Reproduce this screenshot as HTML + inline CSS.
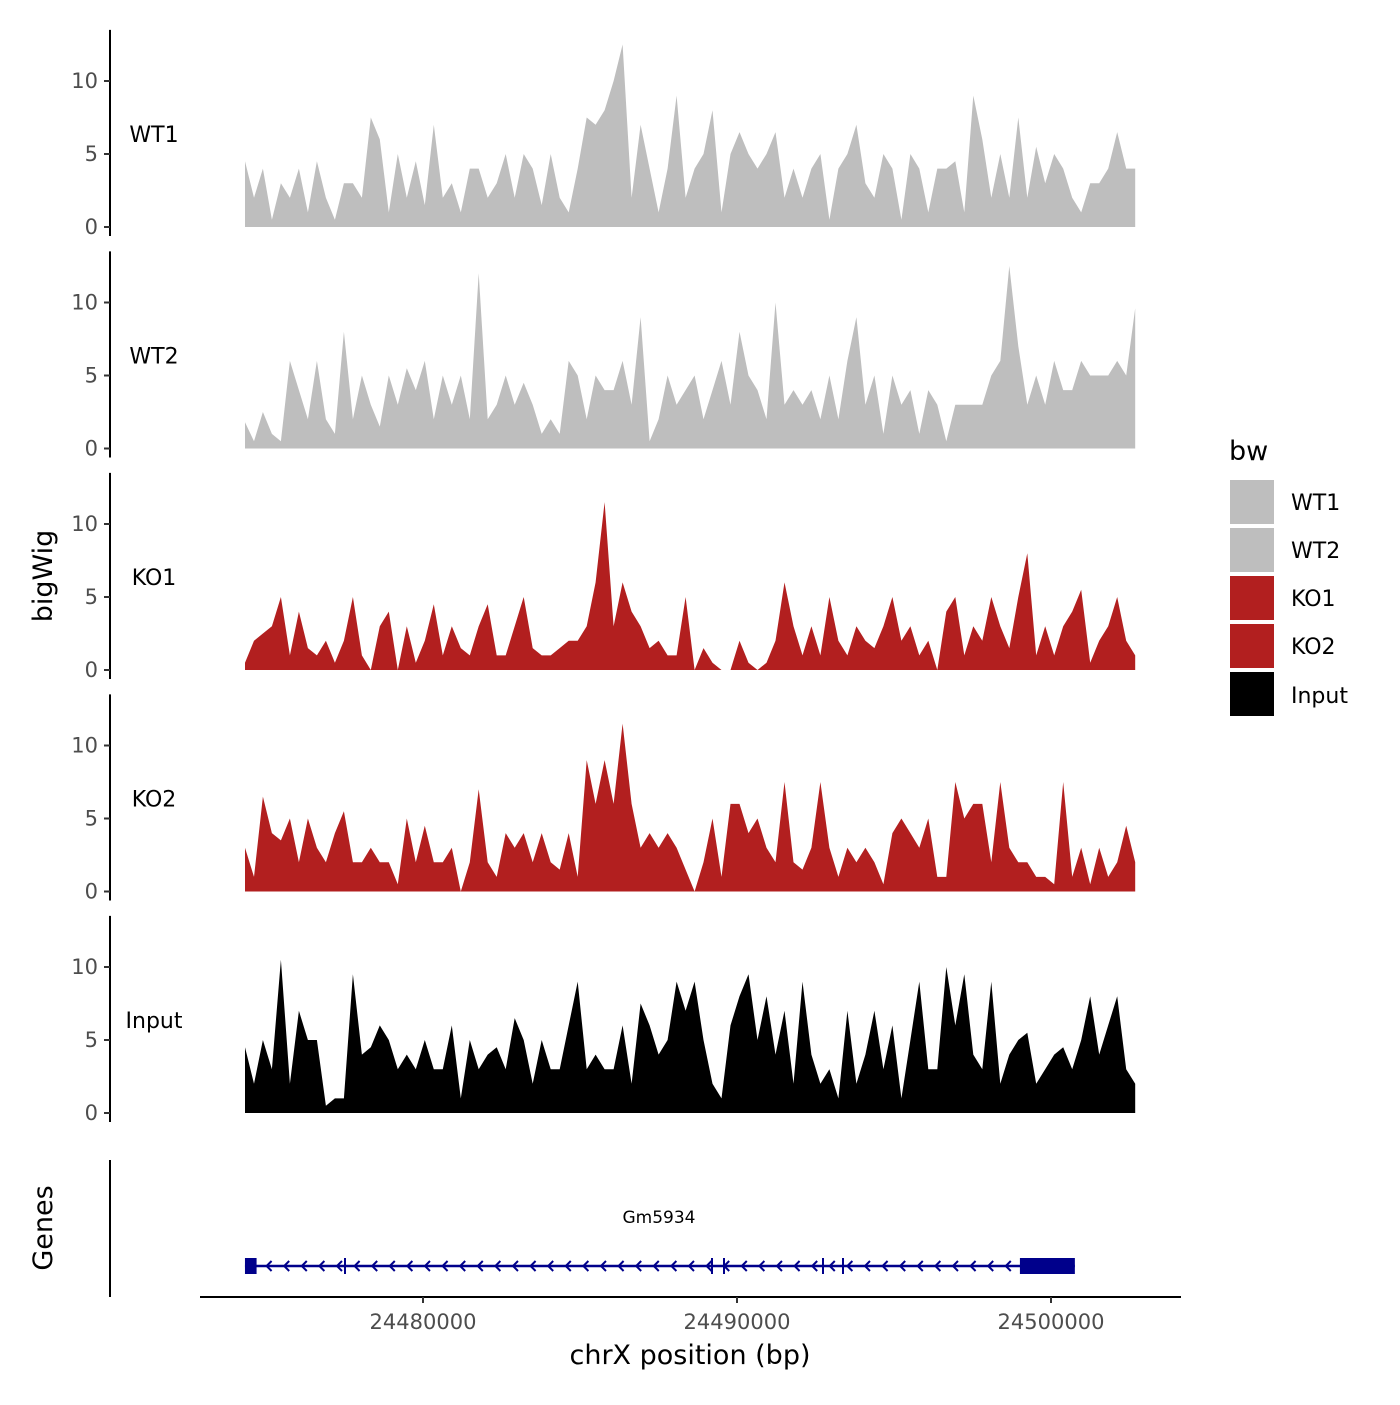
<!DOCTYPE html>
<html><head><meta charset="utf-8"><style>
html,body{margin:0;padding:0;background:#fff}
svg text{font-family:"DejaVu Sans","Liberation Sans",sans-serif}
</style></head><body>
<svg id="chart" width="1400" height="1400" xmlns="http://www.w3.org/2000/svg"></svg>
<script>
const trackNames=["WT1","WT2","KO1","KO2","Input"];
const trackColors=["#bebebe","#bebebe","#b21f1f","#b21f1f","#000000"];
const wt1=[4.5,2,4,0.5,3,2,4,1,4.5,2,0.5,3,3,2,7.5,6,1,5,2,4.5,1.5,7,2,3,1,4,4,2,3,5,2,5,4,1.5,5,2,1,4,7.5,7,8,10,12.5,2,7,4,1,4,9,2,4,5,8,1,5,6.5,5,4,5,6.5,2,4,2,4,5,0.5,4,5,7,3,2,5,4,0.5,5,4,1,4,4,4.5,1,9,6,2,5,2,7.5,2,5.5,3,5,4,2,1,3,3,4,6.5,4,4];
const wt2=[1.8,0.5,2.5,1,0.5,6,4,2,6,2,1,8,2,5,3,1.5,5,3,5.5,4,6,2,5,3,5,2,12,2,3,5,3,4.5,3,1,2,1,6,5,2,5,4,4,6,3,9,0.5,2,5,3,4,5,2,4,6,3,8,5,4,2,10,3,4,3,4,2,5,2,6,9,3,5,1,5,3,4,1,4,3,0.5,3,3,3,3,5,6,12.5,7,3,5,3,6,4,4,6,5,5,5,6,5,9.6];
const ko1=[0.5,2,2.5,3,5,1,4,1.5,1,2,0.5,2,5,1,0,3,4,0,3,0.5,2,4.5,1,3,1.5,1,3,4.5,1,1,3,5,1.5,1,1,1.5,2,2,3,6,11.5,3,6,4,3,1.5,2,1,1,5,0,1.5,0.5,0,0,2,0.5,0,0.5,2,6,3,1,3,1,5,2,1,3,2,1.5,3,5,2,3,1,2,0,4,5,1,3,2,5,3,1.5,5,8,1,3,1,3,4,5.5,0.5,2,3,5,2,1];
const ko2=[3,1,6.5,4,3.5,5,2,5,3,2,4,5.5,2,2,3,2,2,0.5,5,2,4.5,2,2,3,0,2,7,2,1,4,3,4,2,4,2,1.5,4,1,9,6,9,6,11.5,6,3,4,3,4,3,1.5,0,2,5,1,6,6,4,5,3,2,7.5,2,1.5,3,7.5,3,1,3,2,3,2,0.5,4,5,4,3,5,1,1,7.5,5,6,6,2,7.5,3,2,2,1,1,0.5,7.5,1,3,0.5,3,1,2,4.5,2];
const input=[4.5,2,5,3,10.5,2,7,5,5,0.5,1,1,9.5,4,4.5,6,5,3,4,3,5,3,3,6,1,5,3,4,4.5,3,6.5,5,2,5,3,3,6,9,3,4,3,3,6,2,7.5,6,4,5,9,7,9,5,2,1,6,8,9.5,5,8,4,7,2,9,4,2,3,1,7,2,4,7,3,6,1,5,9,3,3,10,6,9.5,4,3,9,2,4,5,5.5,2,3,4,4.5,3,5,8,4,6,8,3,2];
const trackData=[wt1,wt2,ko1,ko2,input];
const yTicks=[0,5,10];
const xTicks=[24480000,24490000,24500000];
const bpStart=24474330, bpEnd=24502680;
const exonStarts=[24474330,24499010];
const exonEnds=[24474700,24500760];
const geneStart=24474330, geneEnd=24500760;

const NS="http://www.w3.org/2000/svg";
const svg=document.getElementById('chart');
function mk(t,a,p){const e=document.createElementNS(NS,t);for(const k in a)e.setAttribute(k,a[k]);(p||svg).appendChild(e);return e;}
function xs(bp){return 423+(bp-24480000)*0.0314;}
const base0=227, step=221.5, ppu=14.6;
function ys(i,v){return base0+i*step - v*ppu;}

trackData.forEach((d,i)=>{
  const g=mk('g',{});
  
  
  const n=d.length;
  let pts=[];
  d.forEach((v,j)=>{const bp=bpStart+(bpEnd-bpStart)*j/(n-1);pts.push(xs(bp).toFixed(1)+','+ys(i,v).toFixed(1));});
  const p=mk('polygon',{points:xs(bpStart).toFixed(1)+','+ys(i,0)+' '+pts.join(' ')+' '+xs(bpEnd).toFixed(1)+','+ys(i,0),fill:trackColors[i]},g);
  
  
  const ax=mk('line',{x1:110,x2:110,y1:ys(i,13.5),y2:ys(i,0)+9,stroke:'#000','stroke-width':2},g);
  
  
  yTicks.forEach(t=>{
    const y=ys(i,t);
    mk('line',{x1:104,x2:110,y1:y,y2:y,stroke:'#333','stroke-width':2},g);
    const tx=mk('text',{x:98,y:y+7,'text-anchor':'end','font-size':21,fill:'#4d4d4d'},g);
    tx.textContent=t;
    
    
  });
  const lb=mk('text',{x:154,y:ys(i,0)-85,'text-anchor':'middle','font-size':22,fill:'#000'},g);
  lb.textContent=trackNames[i];
  
  
});
</script>
<svg style="position:absolute;left:0;top:0" width="1400" height="1400" xmlns="http://www.w3.org/2000/svg">
<text transform="translate(52,576) rotate(-90)" text-anchor="middle" font-size="27" fill="#000" font-family="DejaVu Sans,sans-serif">bigWig</text>
<text transform="translate(52,1228) rotate(-90)" text-anchor="middle" font-size="27" fill="#000" font-family="DejaVu Sans,sans-serif">Genes</text>
<line x1="110" x2="110" y1="1160" y2="1297" stroke="#000" stroke-width="2"/>
<g font-family="DejaVu Sans,sans-serif">
<line x1="200" x2="1181" y1="1297" y2="1297" stroke="#000" stroke-width="2"/>
<line x1="423" x2="423" y1="1297" y2="1303" stroke="#333" stroke-width="2"/>
<line x1="737" x2="737" y1="1297" y2="1303" stroke="#333" stroke-width="2"/>
<line x1="1051" x2="1051" y1="1297" y2="1303" stroke="#333" stroke-width="2"/>
<text x="423" y="1329" text-anchor="middle" font-size="21" fill="#4d4d4d">24480000</text>
<text x="737" y="1329" text-anchor="middle" font-size="21" fill="#4d4d4d">24490000</text>
<text x="1051" y="1329" text-anchor="middle" font-size="21" fill="#4d4d4d">24500000</text>
<text x="690" y="1364" text-anchor="middle" font-size="27" fill="#000">chrX position (bp)</text>
</g>
<g font-family="DejaVu Sans,sans-serif">
<text x="1229" y="460" font-size="27" fill="#000">bw</text>
<rect x="1230" y="480" width="44" height="44" fill="#bebebe"/>
<rect x="1230" y="528" width="44" height="44" fill="#bebebe"/>
<rect x="1230" y="576" width="44" height="44" fill="#b21f1f"/>
<rect x="1230" y="624" width="44" height="44" fill="#b21f1f"/>
<rect x="1230" y="672" width="44" height="44" fill="#000"/>
<text x="1291" y="510" font-size="22">WT1</text>
<text x="1291" y="558" font-size="22">WT2</text>
<text x="1291" y="606" font-size="22">KO1</text>
<text x="1291" y="654" font-size="22">KO2</text>
<text x="1291" y="703" font-size="22">Input</text>
</g>
</svg>
<script>
(function(){
  const g=mk('g',{});
  
  
  const y=1266;
  mk('line',{x1:xs(geneStart),x2:xs(geneEnd),y1:y,y2:y,stroke:'#00008b','stroke-width':2.5},g);
  exonStarts.forEach((s,k)=>{
    const r=mk('rect',{x:xs(s),y:y-8,width:xs(exonEnds[k])-xs(s),height:16,fill:'#00008b'},g);
    
    
  });
  for(let x=xs(exonEnds[0])+10;x<xs(exonStarts[1])-4;x+=17.6){
    mk('polyline',{points:(x+5)+','+(y-5)+' '+x+','+y+' '+(x+5)+','+(y+5),fill:'none',stroke:'#00008b','stroke-width':2},g);
  }
  [345,712,724,823,843].forEach(x=>mk('line',{x1:x,x2:x,y1:y-8,y2:y+8,stroke:'#00008b','stroke-width':2},g));
  const t=mk('text',{x:659,y:1223,'text-anchor':'middle','font-size':17,fill:'#000'},g);
  t.textContent='Gm5934';
  
  
})();
</script>
</body></html>
